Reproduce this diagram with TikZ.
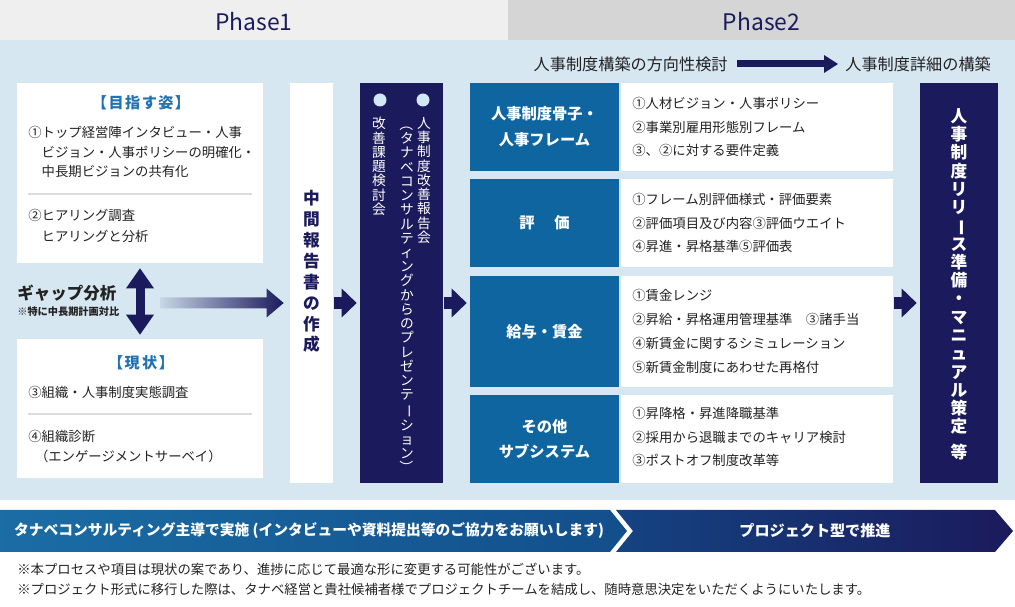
\documentclass[tikz,border=0pt]{standalone}
\usepackage{fontspec}
\setmainfont{Noto Sans CJK JP}
\usepackage{graphicx}
\usepackage{xcolor}
\usetikzlibrary{arrows.meta,calc,fit}

\definecolor{navy}{HTML}{1B1A5C}
\definecolor{bgblue}{HTML}{D7E7F1}
\definecolor{labblue}{HTML}{0F65A0}
\definecolor{headblue}{HTML}{2172B3}
\definecolor{phaseone}{HTML}{EFEFEF}
\definecolor{phasetwo}{HTML}{D5D5D5}
\definecolor{ink}{HTML}{222222}
\definecolor{rulegray}{HTML}{DCDCDC}
\definecolor{dotblue}{HTML}{D3E8F6}

\newcommand{\tatebar}{\rotatebox[origin=c]{-90}{ー}}
\newcommand{\tatelp}{\rotatebox[origin=c]{-90}{（}}
\newcommand{\taterp}{\rotatebox[origin=c]{-90}{）}}

\begin{document}
\begin{tikzpicture}[x=0.02cm, y=-0.02cm,
  panel/.style={inner sep=0pt, fill=white},
  col/.style={inner sep=0pt, fill=navy},
  lab/.style={inner sep=0pt, fill=labblue},
  labtext/.style={inner sep=0pt, text=white, align=center, font=\fontsize{8.7}{14.7}\selectfont\bfseries},
  body/.style={inner sep=0pt, text=ink, align=left, anchor=west, font=\fontsize{7.6}{11.3}\selectfont},
  item/.style={body, font=\fontsize{7.6}{13.5}\selectfont},
  heading/.style={inner sep=0pt, text=headblue, font=\fontsize{8.6}{10}\selectfont\bfseries\addfontfeature{LetterSpace=10}},
  tate/.style={inner sep=0pt, align=center, anchor=north},
  divider/.style={draw=rulegray, line width=0.6pt},
  fat/.style={draw=navy, line width=2.4mm, -{Triangle[length=3mm, width=5.8mm, line width=0pt]}},
  phase/.style={inner sep=0pt, text=navy, font=\fontsize{13}{15}\selectfont}]
\useasboundingbox (0,0) rectangle (1015,607);
\fill[bgblue] (0,40) rectangle (1015,500);
%%%%%%%%%%%%%%%%%%%%%%%%%%%%%%%%%%%%%%%%%%%%%%%%%%
% phases
%%%%%%%%%%%%%%%%%%%%%%%%%%%%%%%%%%%%%%%%%%%%%%%%%%
\node[inner sep=0pt, fill=phaseone, fit={(0,0) (508,40)}] (ph1) {};
\node[inner sep=0pt, fill=phasetwo, fit={(508,0) (1015,40)}] (ph2) {};
\node[phase] (ph1text) at ($(ph1)+(0,1.5)$) {Phase1};
\node[phase] (ph2text) at ($(ph2)+(0,1.5)$) {Phase2};

\node[anchor=east, inner sep=0pt, text=ink, font=\fontsize{9.2}{10}\selectfont] (basic) at (728,64) {人事制度構築の方向性検討};
\node[anchor=west, inner sep=0pt, text=ink, font=\fontsize{9.2}{10}\selectfont] (detail) at (845,64) {人事制度詳細の構築};
\draw[navy, line width=1.4mm, -{Triangle[length=2.8mm, width=3.6mm, line width=0pt]}, shorten <=1.8mm, shorten >=1.4mm] (basic)--(detail);
%%%%%%%%%%%%%%%%%%%%%%%%%%%%%%%%%%%%%%%%%%%%%%%%%%
% left: goal / now
%%%%%%%%%%%%%%%%%%%%%%%%%%%%%%%%%%%%%%%%%%%%%%%%%%
\node[panel, fit={(17,83) (263,263)}] (goal) {};
\node[heading] (goalhead) at (141,103) {【目指す姿】};
\node[body] (goal1) at (28,152) {①トップ経営陣インタビュー・人事\\\hspace*{1em}ビジョン・人事ポリシーの明確化・\\\hspace*{1em}中長期ビジョンの共有化};
\draw[divider] (28,194)--(252,194);
\node[body, font=\fontsize{7.6}{11.9}\selectfont] (goal2) at (28,225.5) {②ヒアリング調査\\\hspace*{1em}ヒアリングと分析};

\node[panel, fit={(17,339) (263,478)}] (now) {};
\node[heading] (nowhead) at (141,363) {【現\,状】};
\node[body] (now1) at (28,392) {③組織・人事制度実態調査};
\draw[divider] (28,414)--(252,414);
\node[body, font=\fontsize{7.6}{11.9}\selectfont] (now2) at (28,446.5) {④組織診断\\\hspace*{0.5em}（エンゲージメントサーベイ）};

\draw[navy, line width=1.8mm, {Triangle[length=4mm, width=5.6mm, line width=0pt]}-{Triangle[length=4mm, width=5.6mm, line width=0pt]}, shorten <=1mm, shorten >=0.8mm] (goal.south)--(now.north);

\node[anchor=west, inner sep=0pt, text=ink, font=\fontsize{9.4}{11}\selectfont\bfseries] (gap) at (17,293) {ギャップ分析};
\node[anchor=west, inner sep=0pt, text=ink, font=\fontsize{5.8}{7}\selectfont\bfseries] (gapnote) at (17,312) {※特に中長期計画対比};
%%%%%%%%%%%%%%%%%%%%%%%%%%%%%%%%%%%%%%%%%%%%%%%%%%
% middle columns
%%%%%%%%%%%%%%%%%%%%%%%%%%%%%%%%%%%%%%%%%%%%%%%%%%
\node[panel, fit={(290,83) (333,483)}] (midcol) {};
\node[tate, text=navy, font=\fontsize{9.5}{11.9}\selectfont\bfseries] (interim) at (311.5,190) {中\\間\\報\\告\\書\\の\\作\\成};

\node[col, fit={(360,83) (443,483)}] (meeting) {};
\node[circle, fill=dotblue, inner sep=0pt, minimum size=2.6mm] (dot1) at (380,100) {};
\node[circle, fill=dotblue, inner sep=0pt, minimum size=2.6mm] (dot2) at (423,100) {};
\node[tate, text=white, font=\fontsize{7.8}{8.1}\selectfont] (kaizen) at (379,117) {改\\善\\課\\題\\検\\討\\会};
\node[tate, text=white, font=\fontsize{7.8}{8.1}\selectfont] (report) at (424,117) {人\\事\\制\\度\\改\\善\\報\\告\\会};
\node[tate, text=white, font=\fontsize{7.8}{8.1}\selectfont] (present) at (407,117) {\tatelp\\タ\\ナ\\ベ\\コ\\ン\\サ\\ル\\テ\\ィ\\ン\\グ\\か\\ら\\の\\プ\\レ\\ゼ\\ン\\テ\\\tatebar\\シ\\ョ\\ン\\\taterp};

% gap arrow
\coordinate (gapfrom) at (160,303);
\coordinate (gapto) at ($(midcol.west |- gapfrom)+(-6,0)$);
\shade[left color=bgblue!92!navy, right color=navy] ($(gapfrom)+(0,-5.5)$) -- ($(gapto)+(-17,-5.5)$) -- ($(gapto)+(-17,-14.5)$) -- (gapto) -- ($(gapto)+(-17,14.5)$) -- ($(gapto)+(-17,5.5)$) -- ($(gapfrom)+(0,5.5)$) -- cycle;
%%%%%%%%%%%%%%%%%%%%%%%%%%%%%%%%%%%%%%%%%%%%%%%%%%
% right: phase 2 blocks
%%%%%%%%%%%%%%%%%%%%%%%%%%%%%%%%%%%%%%%%%%%%%%%%%%
\node[lab, fit={(470,83) (619,171)}] (frame) {};
\node[labtext] (frametitle) at (frame) {人事制度骨子・\\人事フレーム};
\node[panel, fit={(621,83) (893,171)}] (framebox) {};
\node[item] (frametext) at (632,127) {①人材ビジョン・人事ポリシー\\②事業別雇用形態別フレーム\\③、②に対する要件定義};

\node[lab, fit={(470,179) (619,267)}] (eval) {};
\node[labtext] (evaltitle) at (eval) {評\hspace{1.3em}価};
\node[panel, fit={(621,179) (893,267)}] (evalbox) {};
\node[item] (evaltext) at (632,223) {①フレーム別評価様式・評価要素\\②評価項目及び内容③評価ウエイト\\④昇進・昇格基準⑤評価表};

\node[lab, fit={(470,276) (619,387)}] (wage) {};
\node[labtext] (wagetitle) at (wage) {給与・賃金};
\node[panel, fit={(621,276) (893,387)}] (wagebox) {};
\node[item] (wagetext) at (632,331.5) {①賃金レンジ\\②昇給・昇格運用管理基準\quad ③諸手当\\④新賃金に関するシミュレーション\\⑤新賃金制度にあわせた再格付};

\node[lab, fit={(470,395) (619,483)}] (other) {};
\node[labtext] (othertitle) at (other) {その他\\サブシステム};
\node[panel, fit={(621,395) (893,483)}] (otherbox) {};
\node[item] (othertext) at (632,437) {①昇降格・昇進降職基準\\②採用から退職までのキャリア検討\\③ポストオフ制度改革等};

\node[col, fit={(920,83) (998,483)}] (release) {};
\node[inner sep=0pt, text=white, align=center, font=\fontsize{9.5}{10.4}\selectfont\bfseries] (releasetext) at ($(release)+(0,1)$) {人\\事\\制\\度\\リ\\リ\\\tatebar\\ス\\準\\備\\・\\マ\\ニ\\ュ\\ア\\ル\\策\\定\\[4pt]等};

% block arrows
\coordinate (ay) at (0,303);
\draw[fat, shorten <=0.2mm, shorten >=0.6mm] (midcol.east |- ay)--(meeting.west |- ay);
\draw[fat, shorten <=0.2mm, shorten >=0.6mm] (meeting.east |- ay)--(wage.west |- ay);
\draw[fat, shorten <=0.2mm, shorten >=0.6mm] (wagebox.east |- ay)--(release.west |- ay);
%%%%%%%%%%%%%%%%%%%%%%%%%%%%%%%%%%%%%%%%%%%%%%%%%%
% bottom band
%%%%%%%%%%%%%%%%%%%%%%%%%%%%%%%%%%%%%%%%%%%%%%%%%%
\shade[left color=labblue!95!white, right color=labblue!70!navy] (0,510) -- (610,510) -- (627,531) -- (610,552) -- (0,552) -- cycle;
\shade[left color=labblue!55!navy, right color=navy] (616,510) -- (995,510) -- (1013,531) -- (995,552) -- (616,552) -- (633,531) -- cycle;
\node[inner sep=0pt, text=white, font=\fontsize{8.4}{10}\selectfont\bfseries] (lead) at (309,531) {タナベコンサルティング主導で実施 (インタビューや資料提出等のご協力をお願いします)};
\node[inner sep=0pt, text=white, font=\fontsize{8.6}{10}\selectfont\bfseries] (proj) at (815,531) {プロジェクト型で推進};

\node[anchor=west, inner sep=0pt, text=ink, font=\fontsize{7.6}{10}\selectfont] (note1) at (17,569) {※本プロセスや項目は現状の案であり、進捗に応じて最適な形に変更する可能性がございます。};
\node[anchor=west, inner sep=0pt, text=ink, font=\fontsize{7.6}{10}\selectfont] (note2) at (17,589) {※プロジェクト形式に移行した際は、タナベ経営と貴社候補者様でプロジェクトチームを結成し、随時意思決定をいただくようにいたします。};
\end{tikzpicture}
\end{document}
